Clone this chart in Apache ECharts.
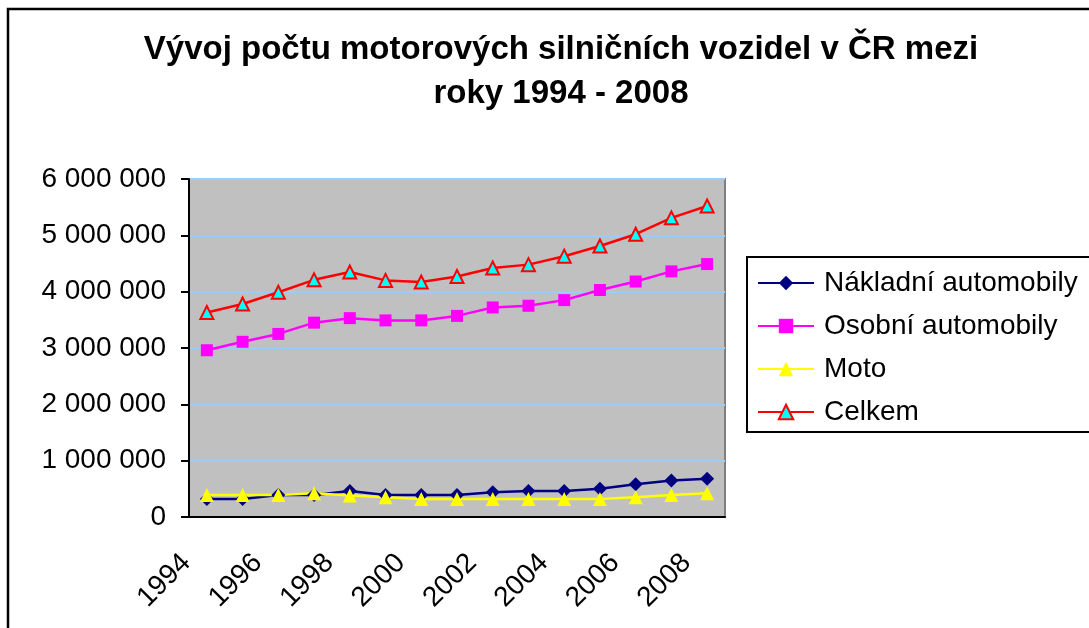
<!DOCTYPE html>
<html>
<head>
<meta charset="utf-8">
<title>Vývoj počtu motorových silničních vozidel</title>
<script src="https://cdn.jsdelivr.net/npm/echarts@6/dist/echarts.min.js"></script>
<style>
  html, body { margin: 0; padding: 0; background: #fff; }
  #chart { width: 1089px; height: 628px; }
</style>
</head>
<body>
<div id="chart"></div>
<script>
// data
const years = ['1994', '1995', '1996', '1997', '1998', '1999', '2000', '2001',
  '2002', '2003', '2004', '2005', '2006', '2007', '2008'];
const nakladni = [320000, 320000, 390000, 390000, 460000, 390000, 390000, 390000,
  440000, 460000, 460000, 500000, 580000, 650000, 680000];
const osobni = [2960000, 3110000, 3250000, 3450000, 3530000, 3490000, 3490000, 3570000,
  3720000, 3750000, 3850000, 4030000, 4180000, 4360000, 4490000];
const moto = [390000, 390000, 390000, 420000, 380000, 350000, 320000, 320000,
  320000, 320000, 320000, 320000, 350000, 390000, 420000];
const celkem = [3630000, 3780000, 3990000, 4210000, 4350000, 4200000, 4170000, 4270000,
  4420000, 4480000, 4630000, 4810000, 5020000, 5310000, 5520000];
const seriesNames = ['Nákladní automobily', 'Osobní automobily', 'Moto', 'Celkem'];

const font = 'Arial, "Liberation Sans", sans-serif';

function fmt(v) {
  return String(v).replace(/\B(?=(\d{3})+(?!\d))/g, ' ');
}

const chart = echarts.init(document.getElementById('chart'));

const option = {
  animation: false,
  backgroundColor: '#fff',
  title: {
    text: 'Vývoj počtu motorových silničních vozidel v ČR mezi\nroky 1994 - 2008',
    left: 556,
    textAlign: 'center',
    top: 23,
    textStyle: {
      fontFamily: font,
      fontSize: 33,
      fontWeight: 'bold',
      color: '#000',
      lineHeight: 44
    }
  },
  graphic: [{
    type: 'rect',
    shape: { x: 8, y: 9, width: 1200, height: 700 },
    style: { fill: 'none', stroke: '#000', lineWidth: 2.5 },
    z: 100
  }],
  legend: {
    orient: 'vertical',
    left: 747,
    top: 257,
    padding: [11, 30, 5, 10],
    itemWidth: 56,
    itemHeight: 18,
    itemGap: 13,
    borderColor: '#000',
    borderWidth: 2,
    backgroundColor: '#fff',
    textStyle: {
      fontFamily: font,
      fontSize: 28,
      color: '#000',
      lineHeight: 30,
      padding: [0, 0, 0, 5]
    },
    data: seriesNames
  },
  grid: {
    left: 189,
    top: 179,
    width: 536,
    height: 338,
    show: true,
    backgroundColor: '#C0C0C0',
    borderColor: '#808080',
    borderWidth: 2
  },
  xAxis: {
    type: 'category',
    data: years,
    boundaryGap: true,
    axisLine: { lineStyle: { color: '#000', width: 2 } },
    axisTick: { interval: 0, length: 8, lineStyle: { color: '#000', width: 2 } },
    axisLabel: {
      interval: 1,
      rotate: 45,
      margin: 21,
      padding: [0, 29, 0, 0],
      fontFamily: font,
      fontSize: 28,
      color: '#000'
    }
  },
  yAxis: {
    type: 'value',
    min: 0,
    max: 6000000,
    interval: 1000000,
    axisLine: { show: true, lineStyle: { color: '#000', width: 2 } },
    axisTick: { show: true, length: 8, lineStyle: { color: '#000', width: 2 } },
    splitLine: { lineStyle: { color: '#99CCFF', width: 2 } },
    axisLabel: {
      margin: 23,
      fontFamily: font,
      fontSize: 28,
      color: '#000',
      formatter: fmt
    }
  },
  series: [
    {
      name: seriesNames[0],
      type: 'line',
      data: nakladni,
      symbol: 'diamond',
      symbolSize: 14,
      lineStyle: { color: '#000080', width: 2.5 },
      itemStyle: { color: '#000080' }
    },
    {
      name: seriesNames[1],
      type: 'line',
      data: osobni,
      symbol: 'rect',
      symbolSize: 12,
      lineStyle: { color: '#FF00FF', width: 2.5 },
      itemStyle: { color: '#FF00FF' }
    },
    {
      name: seriesNames[2],
      type: 'line',
      data: moto,
      symbol: 'triangle',
      symbolSize: 14,
      lineStyle: { color: '#FFFF00', width: 2.5 },
      itemStyle: { color: '#FFFF00' }
    },
    {
      name: seriesNames[3],
      type: 'line',
      data: celkem,
      symbol: 'triangle',
      symbolSize: 13,
      lineStyle: { color: '#FF0000', width: 2.5 },
      itemStyle: { color: '#00FFFF', borderColor: '#FF0000', borderWidth: 2 }
    }
  ]
};

chart.setOption(option);
</script>
</body>
</html>
